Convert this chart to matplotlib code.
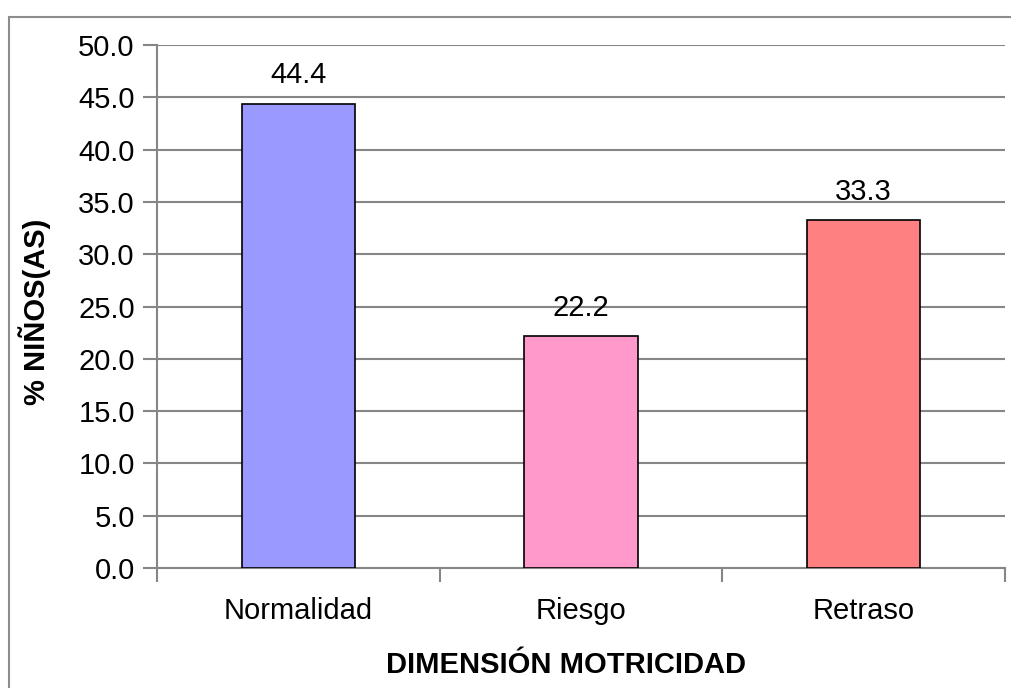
import matplotlib.pyplot as plt
import matplotlib.patches as mpatches

categorias = ["Normalidad", "Riesgo", "Retraso"]
porcentajes = [44.4, 22.2, 33.3]
colores = ["#9999FF", "#FF99CC", "#FF8080"]
yticks = [0, 5, 10, 15, 20, 25, 30, 35, 40, 45, 50]

plt.rcParams['font.family'] = ['Liberation Sans', 'DejaVu Sans']

fig = plt.figure(figsize=(10.11, 6.88), dpi=100)
ax = fig.add_axes([157/1011, 1-568/688, (1005-157)/1011, (568-45)/688])

# marco exterior del grafico
fig.patches.append(mpatches.Rectangle((9/1011, -0.1), 1.2, 1-17/688+0.1,
                                      transform=fig.transFigure, fill=False,
                                      edgecolor="#8c8c8c", linewidth=1.5))

x = range(len(categorias))
ax.bar(x, porcentajes, width=0.4, color=colores, edgecolor="black", linewidth=1.2, zorder=3)
for i, v in zip(x, porcentajes):
    ax.annotate("%.1f" % v, (i, v), xytext=(0, 14.5), textcoords="offset points",
                ha="center", va="baseline", fontsize=21)

ax.set_xlim(-0.5, 2.5)
ax.set_ylim(0, 50)
ax.set_yticks(yticks)
ax.set_yticklabels(["%.1f" % t for t in yticks], fontsize=21)
ax.yaxis.grid(True, color="#868686", linewidth=1.5, zorder=0)
ax.set_axisbelow(True)

ax.set_xticks([-0.5, 0.5, 1.5, 2.5])
ax.set_xticklabels([])
ax.set_xticks(list(x), minor=True)
ax.set_xticklabels(categorias, minor=True, fontsize=21)
ax.tick_params(axis="x", which="minor", length=0, pad=21)
ax.tick_params(axis="x", which="major", length=10, width=1.5, color="#868686")
ax.tick_params(axis="y", length=10, width=1.5, color="#868686", pad=6)

for s in ["top", "right"]:
    ax.spines[s].set_visible(False)
for s in ["left", "bottom"]:
    ax.spines[s].set_color("#868686")
    ax.spines[s].set_linewidth(1.5)

fig.text(566/1011, 1-673/688, "DIMENSIÓN MOTRICIDAD", ha="center", va="baseline",
         fontsize=21, fontweight="bold")
fig.text(35/1011, 1-312/688, "% NIÑOS(AS)", ha="center", va="center",
         rotation=90, fontsize=21, fontweight="bold")

fig.savefig("out.png", dpi=100)
